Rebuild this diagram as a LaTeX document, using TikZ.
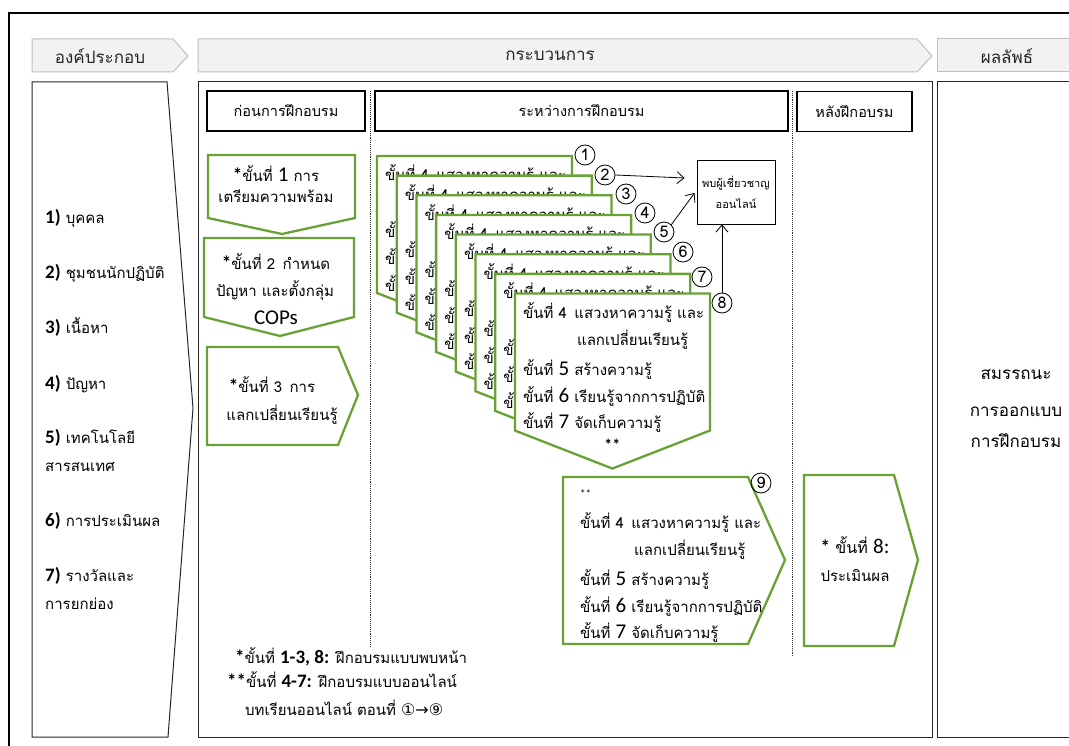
\documentclass[tikz,border=0pt]{standalone}
\usepackage{fontspec}
\setmainfont{Loma}[Script=Thai]
\newfontfamily\numfont{Carlito}
\newfontfamily\dvfont{DejaVu Sans}
\usetikzlibrary{arrows.meta}

\definecolor{stepgreen}{RGB}{104,161,52}
\definecolor{hdrfill}{RGB}{242,242,242}
\definecolor{hdrline}{RGB}{191,191,191}

\newcommand{\nb}[1]{{\numfont\fontsize{21}{21}\selectfont #1}}
\newcommand{\nbb}[1]{{\numfont\bfseries\fontsize{19}{19}\selectfont #1}}
\newcommand{\cardlines}[3]{%
  \node[cardline] (#3-1) at (#1,#2) {ขั้นที่ 4\enspace แสวงหาความรู้ และ};
  \node[cardline] (#3-2) at (#1+54,#2+27) {แลกเปลี่ยนเรียนรู้};
  \node[cardline] (#3-3) at (#1,#2+57) {ขั้นที่ \nb{5} สร้างความรู้};
  \node[cardline] (#3-4) at (#1,#2+84) {ขั้นที่ \nb{6} เรียนรู้จากการปฏิบัติ};
  \node[cardline] (#3-5) at (#1,#2+110) {ขั้นที่ \nb{7} จัดเก็บความรู้};
}

\tikzset{
  hdr/.style={fill=hdrfill, draw=hdrline, line width=1pt},
  hdrtxt/.style={font=\fontsize{17}{20}\selectfont, text=black!85, inner sep=0pt},
  secbox/.style={draw, line width=1.3pt, minimum height=40pt, font=\fontsize{14.5}{16}\selectfont},
  panel/.style={draw=black!85, line width=1pt},
  stepbox/.style={draw=stepgreen, line width=2.3pt, fill=white},
  txt/.style={font=\fontsize{15}{18}\selectfont, text=black, inner sep=0pt},
  cardline/.style={txt, anchor=base west},
  ctxt/.style={txt, anchor=base},
  numc/.style={circle, draw, line width=0.8pt, minimum size=20pt, inner sep=0pt, font=\fontsize{16}{16}\selectfont},
  link/.style={-{Straight Barb[length=7pt,width=12pt]}, line width=0.8pt},
  sepline/.style={densely dotted, line width=0.9pt, black!80},
}

\begin{document}
\begin{tikzpicture}[x=1pt, y=-1pt]
\useasboundingbox (0,0) rectangle (1069,746);
% frame
\draw[line width=1.8pt] (9,13) rectangle (1090,760);

% header chevrons
\draw[hdr] (32,39) -- (173,39) -- (188,56) -- (173,72) -- (32,72) -- cycle;
\draw[hdr] (198,39) -- (917,39) -- (932,56) -- (917,72) -- (198,72) -- cycle;
\draw[hdr] (937,39) -- (1090,39) -- (1090,72) -- (937,72) -- cycle;
\node[hdrtxt] (hParts) at (100,56) {องค์ประกอบ};
\node[hdrtxt] (hProc) at (550,56) {กระบวนการ};
\node[hdrtxt] (hOut) at (1007,56) {ผลลัพธ์};

% panels
\draw[panel] (32,82) -- (167,82) -- (193,408) -- (168,737) -- (32,737) -- cycle;
\draw[panel] (198,82) rectangle (932,737);
\draw[panel] (937,82) rectangle (1090,737);

% components
\foreach \i/\y/\t in {1/224/บุคคล, 2/279/ชุมชนนักปฏิบัติ, 3/334/เนื้อหา, 4/389/ปัญหา, 5/443/เทคโนโลยี, 6/526/การประเมินผล, 7/581/รางวัลและ}
  \node[cardline] (part\i) at (45,\y) {\nbb{\i)} \t};
\node[cardline] (part5b) at (45,471) {สารสนเทศ};
\node[cardline] (part7b) at (45,609) {การยกย่อง};

% phases
\node[secbox, minimum width=158pt] (sBefore) at (286,111) {ก่อนการฝึกอบรม};
\node[secbox, minimum width=413pt] (sDuring) at (581.5,111) {ระหว่างการฝึกอบรม};
\node[secbox, minimum width=115pt] (sAfter) at (854.5,111.5) {หลังฝึกอบรม};
\draw[sepline] (370,91) -- (370,647);
\draw[sepline] (792.5,91) -- (792.5,657);

% steps 1-3
\draw[stepbox] (208,155) -- (355,155) -- (355,218) -- (282,234) -- (208,218) -- cycle;
\node[ctxt] (s1a) at (276,182) {\nbb{*}ขั้นที่ \nb{1} การ};
\node[ctxt] (s1b) at (276,203) {เตรียมความพร้อม};
\draw[stepbox] (204,238) -- (354,238) -- (354,317) -- (280,336) -- (204,317) -- cycle;
\node[ctxt] (s2a) at (276,270) {\nbb{*}ขั้นที่ 2\enspace กำหนด};
\node[ctxt] (s2b) at (275,297) {ปัญหา และตั้งกลุ่ม};
\node[ctxt] (s2c) at (276,324) {\nb{COPs}};
\draw[stepbox] (207,347) -- (338,347) -- (358,395) -- (338,445) -- (207,445) -- cycle;
\node[ctxt] (s3a) at (272,392) {\nbb{*}ขั้นที่ 3\enspace การ};
\node[ctxt] (s3b) at (282,420) {แลกเปลี่ยนเรียนรู้};

% online lessons
\foreach \k in {0,...,7}{
  \begin{scope}[shift={(19.7*\k,19.65*\k)}]
    \draw[stepbox] (377,156) -- (572,156) -- (572,293) -- (474.5,331) -- (377,293) -- cycle;
    \cardlines{385}{181}{card\k}
    \node[ctxt, font=\numfont\bfseries\fontsize{16}{16}\selectfont] (card\k-s) at (474.5,313) {**};
  \end{scope}
}
\foreach \n/\cx/\cy in {1/585/155, 2/605/175, 3/626/194, 4/645/213, 5/664/232, 6/683/252, 7/702/277, 8/722/303}
  \node[numc] (n\n) at (\cx,\cy) {\n};

\node[draw, line width=0.9pt, minimum width=78pt, minimum height=64pt, align=center, font=\fontsize{11}{21}\selectfont] (expert) at (736,192) {พบผู้เชี่ยวชาญ\\ออนไลน์};
\draw[link] (n2.east) -- ([xshift=-12pt,yshift=14pt]expert.west);
\draw[link] (n5.north east) -- ([xshift=-2pt,yshift=-1pt]expert.west);
\draw[link] (n8.north) -- (n8.north |- expert.south);

\draw[stepbox] (563,477) -- (748,477) -- (785,560) -- (748,644) -- (563,644) -- cycle;
\node[cardline, font=\numfont\fontsize{11}{11}\selectfont] (online-s) at (580,497) {**};
\cardlines{580}{528}{online}
\node[numc] (n9) at (761,483) {9};

% step 8
\draw[stepbox] (804,475) -- (894,475) -- (918,560) -- (894,646) -- (804,646) -- cycle;
\node[ctxt, font=\fontsize{16}{18}\selectfont] (s8a) at (855,553) {\nbb{*} ขั้นที่ \nb{8:}};
\node[ctxt] (s8b) at (855,581) {ประเมินผล};

% result
\node[ctxt, font=\fontsize{17}{20}\selectfont] (res1) at (1016,379) {สมรรถนะ};
\node[ctxt, font=\fontsize{17}{20}\selectfont] (res2) at (1016,416) {การออกแบบ};
\node[ctxt, font=\fontsize{17}{20}\selectfont] (res3) at (1016,447) {การฝึกอบรม};

% notes
\node[cardline] (note1) at (235,663) {\nbb{*}ขั้นที่ \nbb{1-3, 8:} ฝึกอบรมแบบพบหน้า};
\node[cardline] (note2) at (227,687) {\nbb{**}ขั้นที่ \nbb{4-7:} ฝึกอบรมแบบออนไลน์};
\node[cardline] (note3) at (245,715) {บทเรียนออนไลน์ ตอนที่ {\dvfont\fontsize{16}{16}\selectfont ①→⑨}};
\end{tikzpicture}
\end{document}
